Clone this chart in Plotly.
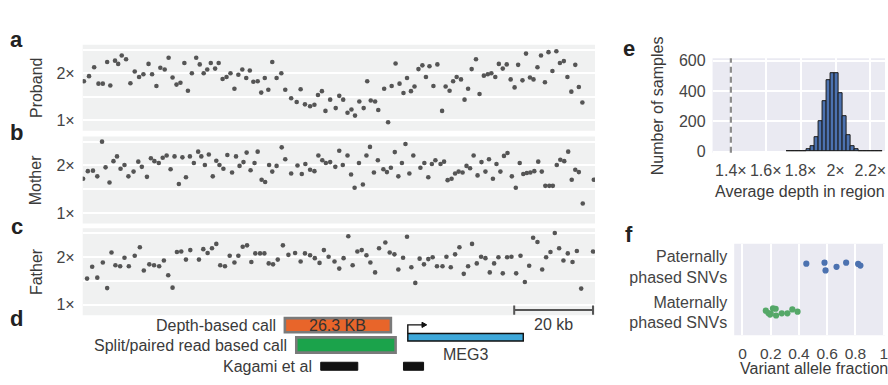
import plotly.graph_objects as go

# ---------------- data ----------------
proband_kb = [0.3,1.6,2.9,4.0,5.1,6.2,7.0,8.2,9.0,9.9,11.0,12.1,13.2,14.3,15.4,16.7,17.6,18.7,19.7,20.8,
              21.8,22.8,23.8,24.8,25.8,26.7,27.7,28.8,29.7,30.7,31.6,32.5,33.6,34.5,35.5,36.5,37.5,38.5,39.5,40.5,
              41.5,42.4,43.3,44.4,45.3,46.2,47.1,48.1,49.2,50.4,51.4,52.9,54.3,
              55.3,56.4,57.7,58.8,59.7,60.7,61.6,62.8,64.2,65.1,66.1,67.2,68.2,69.1,70.2,71.3,72.2,73.1,74.2,75.0,
              76.5,77.5,78.4,79.4,80.4,81.4,82.3,83.3,84.2,85.2,86.2,87.1,88.0,89.0,90.0,91.2,92.1,93.1,94.0,94.9,
              96.0,96.9,97.8,98.7,99.8,100.7,101.8,102.8,103.7,104.7,105.6,106.6,107.6,108.6,109.6,110.5,111.6,112.5,113.5,114.4,
              115.4,116.3,117.3,118.2,119.2,120.2,121.1,122.1,123.0,124.0,125.0,125.9,126.8]
proband_depth = [1.83,1.94,2.13,1.78,1.78,2.24,1.74,2.27,2.20,2.38,2.30,1.79,2.04,1.92,1.98,2.20,1.98,1.73,2.12,2.08,
                 2.33,1.91,1.76,1.80,2.22,1.63,2.00,2.33,2.19,2.00,2.08,2.22,2.10,2.22,1.88,1.92,2.00,1.67,1.97,2.08,
                 1.90,2.06,1.82,1.83,1.59,1.90,1.65,2.24,1.90,2.00,1.65,1.47,1.39,
                 1.66,1.34,1.30,1.33,1.54,1.62,1.20,1.44,1.26,1.52,1.44,1.16,1.23,1.10,1.40,1.26,1.83,1.42,1.40,1.22,
                 1.67,0.96,1.73,2.21,1.78,1.58,1.90,1.62,1.72,2.09,2.17,1.92,2.15,1.73,2.19,1.20,1.72,1.63,1.83,1.92,
                 1.87,1.44,1.67,2.09,2.30,1.56,1.95,1.98,2.00,1.92,2.20,2.10,2.19,1.87,1.70,2.18,1.85,2.42,1.91,1.87,
                 2.13,2.38,1.81,2.45,2.05,2.47,2.22,2.26,1.92,1.61,2.18,1.71,1.38]

mother_kb = [0.1,1.3,2.6,3.7,4.9,5.8,6.8,7.8,8.7,9.6,10.6,11.6,12.9,14.1,15.0,16.3,17.3,18.2,19.3,20.3,
             21.3,22.3,23.3,24.4,25.3,26.2,27.2,28.2,29.3,30.1,31.0,32.0,33.0,33.9,34.7,35.7,36.7,37.9,38.9,39.8,
             40.8,41.6,42.6,43.6,44.4,45.4,46.3,47.3,48.1,49.2,50.5,51.4,52.9,54.5,
             55.6,56.5,57.7,58.8,59.8,60.8,61.7,62.8,64.1,65.1,66.0,67.2,68.1,69.0,70.1,71.1,72.0,72.9,73.9,74.9,
             76.3,77.2,78.2,79.2,80.1,81.0,81.9,82.9,83.9,85.7,86.7,87.7,88.6,89.5,90.8,91.7,92.6,93.6,94.5,95.4,
             96.4,97.4,98.3,99.2,100.2,101.2,102.2,103.1,104.1,105.0,106.0,106.9,107.8,108.9,109.9,110.9,111.8,112.7,113.6,114.6,
             115.6,116.5,117.4,118.4,119.3,120.3,121.2,122.2,123.2,124.1,125.0,125.9,126.9,129.7]
mother_depth = [1.72,1.88,1.89,1.77,2.50,1.96,1.64,2.09,2.19,1.93,2.01,1.77,1.87,2.08,1.97,1.76,2.15,2.09,2.05,2.16,
                2.21,1.92,2.19,1.61,2.17,1.75,2.19,2.05,2.29,2.19,2.01,2.23,1.77,2.10,2.01,1.93,2.22,1.85,2.19,1.99,
                2.07,2.27,1.90,2.05,2.29,1.70,1.65,2.01,1.87,1.99,2.38,2.13,1.83,2.00,
                1.82,2.03,1.91,1.88,2.21,2.11,2.05,2.07,1.97,2.31,2.01,2.21,1.81,1.53,2.05,1.60,2.21,2.39,1.85,2.11,
                1.92,1.86,1.95,2.28,1.77,2.05,2.45,1.83,2.21,1.95,2.05,1.75,2.03,2.11,2.03,2.08,1.69,1.72,1.83,1.87,
                1.85,1.99,1.94,2.21,1.79,2.07,1.87,2.13,1.72,2.03,1.87,2.20,2.26,1.77,1.53,2.05,1.82,1.84,1.85,1.88,
                2.08,1.87,1.57,1.57,1.57,2.01,2.12,2.09,2.29,1.70,1.91,1.86,1.20,1.70]

father_kb = [1.1,2.4,3.7,5.1,6.2,7.3,8.3,9.5,10.6,11.7,13.2,14.5,15.5,16.9,18.1,19.4,20.6,21.7,22.8,23.9,
             25.0,26.2,27.3,29.5,30.6,31.7,32.8,33.9,34.9,36.1,37.3,38.5,39.5,40.6,41.7,42.8,43.8,45.0,46.1,47.2,
             48.3,49.5,50.8,52.2,53.9,
             55.3,56.4,57.7,58.9,60.1,61.2,62.4,63.9,65.1,66.2,67.4,68.5,69.7,70.8,72.0,73.0,74.2,75.2,76.8,77.9,
             79.1,80.1,81.3,82.3,83.4,84.4,85.5,86.6,87.7,88.8,89.9,91.3,92.3,93.4,94.5,95.6,96.7,97.8,98.8,100.0,
             101.1,102.2,103.3,104.4,105.5,106.6,107.7,108.8,110.0,111.1,112.2,113.3,114.3,115.4,116.6,117.6,118.7,119.8,120.9,122.0,
             123.1,124.3,125.4,126.5,129.5]
father_depth = [1.55,1.80,1.57,1.89,1.35,2.10,1.83,1.81,1.99,1.81,2.03,2.21,1.72,1.85,1.83,1.81,1.93,1.62,1.36,2.11,
                2.12,1.95,2.15,1.95,2.17,2.09,2.19,2.28,1.83,1.81,2.03,1.89,2.03,2.22,2.25,1.90,2.08,2.08,2.08,1.87,
                1.85,1.95,2.25,2.05,2.09,
                1.91,2.08,2.04,1.98,1.88,2.15,2.01,1.91,1.76,1.98,2.44,1.83,2.12,2.15,2.04,1.89,1.68,2.19,2.31,2.10,
                2.06,1.74,1.99,2.43,1.79,1.46,1.97,1.85,1.96,2.00,1.81,1.81,2.01,1.79,2.06,2.21,1.65,1.81,2.28,1.87,
                2.01,1.98,1.68,1.87,2.00,1.66,2.00,2.01,1.66,2.03,1.48,1.82,2.41,2.32,1.74,2.00,2.11,2.51,2.19,1.93,
                2.08,1.90,2.13,1.34,2.12]

depth_ticks = [1, 1.5, 2, 2.5]
depth_ticktext = ["1×", "", "2×", ""]

# panel d : genomic features (kb)
depth_call = [51.3, 78.2]
depth_call_label = "26.3 KB"
split_call = [54.2, 79.4]
meg3 = [82.5, 111.8]
kagami = [[60.4, 69.8], [81.4, 86.5]]
scalebar = [109.5, 129.5]
scalebar_label = "20 kb"

# panel e : histogram of average depth in region across samples
hist_centers = [1.731,1.754,1.777,1.800,1.823,1.846,1.869,1.892,1.915,1.938,1.961,1.984,2.007,2.030,2.053,2.076,
                2.099,2.122,2.145,2.168,2.191,2.214,2.237,2.260]
hist_counts = [1,1,2,3,4,17,38,98,202,335,469,516,520,382,236,106,38,15,6,2,1,1,1,1]
hist_bin_width = 0.0232
proband_avg_depth = 1.4
hist_ticks = [1.4, 1.6, 1.8, 2.0, 2.2]
hist_ticktext = ["1.4×", "1.6×", "1.8×", "2×", "2.2×"]
count_ticks = [0, 200, 400, 600]

# panel f : variant allele fraction of phased SNVs
snv_categories = ["Paternally<br>phased SNVs", "Maternally<br>phased SNVs"]
paternal_vaf = [0.452, 0.581, 0.588, 0.666, 0.734, 0.819, 0.835]
paternal_jitter = [-0.063, -0.085, 0.085, 0.006, -0.085, -0.057, -0.021]
maternal_vaf = [0.165, 0.183, 0.200, 0.216, 0.235, 0.238, 0.278, 0.318, 0.353, 0.390, 0.195]
maternal_jitter = [-0.036, 0.015, 0.028, -0.085, -0.078, 0.070, 0.021, 0.021, -0.063, -0.015, 0.05]
vaf_ticks = [0, 0.2, 0.4, 0.6, 0.8, 1]
vaf_ticktext = ["0", "0.2", "0.4", "0.6", "0.8", "1"]

# ---------------- layout helpers ----------------
W, H = 888, 385
FONT = "Liberation Sans, Arial, sans-serif"
TXT = "#3a3a3a"
def fx(p): return p / W
def fy(p): return 1 - p / H

def note(text, x, y, xref="paper", yref="paper", size=16, color=TXT, xanchor="center", **kw):
    return dict(text=text, x=x, y=y, xref=xref, yref=yref, xanchor=xanchor, yanchor="middle",
                showarrow=False, font=dict(size=size, color=color, family=FONT), **kw)

fig = go.Figure()

panels = [("Proband", proband_kb, proband_depth, 40, 129),
          ("Mother", mother_kb, mother_depth, 135, 225),
          ("Father", father_kb, father_depth, 230, 320)]
shapes = []
annotations = []
for i, (name, xs, ys, top, bot) in enumerate(panels, start=1):
    sfx = "" if i == 1 else str(i)
    fig.add_trace(go.Scatter(x=xs, y=ys, mode="markers", xaxis="x" + sfx, yaxis="y" + sfx,
                             marker=dict(size=4.6, color="#555555"), showlegend=False, hoverinfo="skip"))
    fig.layout["xaxis" + sfx] = dict(domain=[fx(83), fx(597)], range=[0, 130], anchor="y" + sfx,
                                     showgrid=False, showticklabels=False, zeroline=False, showline=False)
    fig.layout["yaxis" + sfx] = dict(domain=[fy(bot), fy(top)], range=[0.78, 2.61], anchor="x" + sfx,
                                     tickvals=depth_ticks, ticktext=depth_ticktext, showgrid=True,
                                     gridcolor="white", gridwidth=1.6, zeroline=False, showline=False,
                                     ticks="", ticklabelstandoff=7,
                                     tickfont=dict(size=16, color="#444", family=FONT))
    shapes.append(dict(type="rect", xref="paper", yref="paper", x0=fx(83), x1=fx(597), y0=fy(bot), y1=fy(top),
                       fillcolor="#F0F1F1", line=dict(width=0), layer="below"))
    annotations.append(note(name, fx(36.5), fy((top + bot) / 2), textangle=-90))

# panel e
fig.add_trace(go.Bar(x=hist_centers, y=hist_counts, width=hist_bin_width, xaxis="x4", yaxis="y4",
                     marker=dict(color="#4C72B0", line=dict(color="#1a1a1a", width=1)),
                     showlegend=False, hoverinfo="skip"))
fig.layout["xaxis4"] = dict(domain=[fx(715), 1], range=[1.2952, 2.2838], anchor="y4",
                            tickvals=hist_ticks, ticktext=hist_ticktext, showgrid=True, gridcolor="white",
                            gridwidth=1.6, zeroline=False, showline=False, ticks="", ticklabelstandoff=6,
                            ticklabeloverflow="allow",
                            tickfont=dict(size=16, color="#444", family=FONT))
fig.layout["yaxis4"] = dict(domain=[fy(152), fy(54)], range=[-8.3, 616], anchor="x4",
                            tickvals=count_ticks, showgrid=True, gridcolor="white", gridwidth=1.6,
                            zeroline=False, showline=False, ticks="", ticklabelstandoff=6,
                            tickfont=dict(size=16, color="#444", family=FONT))
shapes.append(dict(type="rect", xref="paper", yref="paper", x0=fx(715), x1=1, y0=fy(152), y1=fy(54),
                   fillcolor="#EAEAF2", line=dict(width=0), layer="below"))
shapes.append(dict(type="line", xref="x4", yref="y4 domain", x0=proband_avg_depth, x1=proband_avg_depth,
                   y0=0, y1=1, line=dict(color="#8c8c8c", width=2.2, dash="6px,4px")))
annotations.append(note("Number of samples", fx(660), fy(103), textangle=-90))
annotations.append(note("Average depth in region", fx(803), fy(191.7)))

# panel f
fig.add_trace(go.Scatter(x=paternal_vaf, y=[0 + j for j in paternal_jitter], mode="markers",
                         xaxis="x5", yaxis="y5", marker=dict(size=6.2, color="#4C72B0"),
                         showlegend=False, hoverinfo="skip"))
fig.add_trace(go.Scatter(x=maternal_vaf, y=[1 + j for j in maternal_jitter], mode="markers",
                         xaxis="x5", yaxis="y5", marker=dict(size=6.2, color="#55A868"),
                         showlegend=False, hoverinfo="skip"))
fig.layout["xaxis5"] = dict(domain=[fx(736.7), 1], range=[-0.0586, 1.0092], anchor="y5",
                            tickvals=vaf_ticks, ticktext=vaf_ticktext, showgrid=True, gridcolor="white",
                            gridwidth=1.6, zeroline=False, showline=False, ticks="", ticklabelstandoff=7,
                            ticklabeloverflow="allow",
                            tickfont=dict(size=15.5, color="#444", family=FONT))
fig.layout["yaxis5"] = dict(domain=[fy(340.7), fy(246)], range=[1.5, -0.5], anchor="x5",
                            tickvals=[0, 1], ticktext=snv_categories, showgrid=False,
                            zeroline=False, showline=False, ticks="", ticklabelstandoff=6,
                            tickfont=dict(size=16, color="#444", family=FONT))
shapes.append(dict(type="rect", xref="paper", yref="paper", x0=fx(736.7), x1=1, y0=fy(340.7), y1=fy(246),
                   fillcolor="#EAEAF2", line=dict(width=0), layer="below"))
annotations.append(note("Variant allele fraction", fx(816.4), fy(375)))

# panel d (genomic features on the shared kb axis)
shapes.append(dict(type="rect", xref="x3", yref="paper", x0=depth_call[0], x1=depth_call[1],
                   y0=fy(337.7), y1=fy(323), fillcolor="#E8652A", line=dict(color="#7a7a7a", width=2.6)))
shapes.append(dict(type="rect", xref="x3", yref="paper", x0=split_call[0], x1=split_call[1],
                   y0=fy(358.7), y1=fy(343), fillcolor="#1BA34B", line=dict(color="#7a7a7a", width=2.6)))
shapes.append(dict(type="rect", xref="x3", yref="paper", x0=meg3[0], x1=meg3[1],
                   y0=fy(346.7), y1=fy(339), fillcolor="#3EA8DA", line=dict(color="#111111", width=1.4)))
arrow_end = meg3[0] + 3.6
shapes.append(dict(type="path", xref="x3", yref="paper",
                   path=f"M{meg3[0]},{fy(339)} L{meg3[0]},{fy(330)} L{arrow_end},{fy(330)}",
                   line=dict(color="#111111", width=1.4)))
shapes.append(dict(type="path", xref="x3", yref="paper",
                   path=f"M{arrow_end},{fy(327.3)} L{arrow_end + 1.2},{fy(330)} L{arrow_end},{fy(332.7)} Z",
                   fillcolor="#111111", line=dict(color="#111111", width=1)))
for k0, k1 in kagami:
    shapes.append(dict(type="rect", xref="x3", yref="paper", x0=k0, x1=k1, y0=fy(377), y1=fy(368.7),
                       fillcolor="#111111", line=dict(color="#111111", width=1)))
# scale bar
shapes.append(dict(type="line", xref="x3", yref="paper", x0=scalebar[0], x1=scalebar[1],
                   y0=fy(314.7), y1=fy(314.7), line=dict(color="#555555", width=2)))
for sb in scalebar:
    shapes.append(dict(type="line", xref="x3", yref="paper", x0=sb, x1=sb, y0=fy(319.5), y1=fy(310),
                       line=dict(color="#555555", width=2)))
annotations.append(note(scalebar_label, (scalebar[0] + scalebar[1]) / 2, fy(329.5), xref="x3"))
annotations.append(note(depth_call_label, (depth_call[0] + depth_call[1]) / 2, fy(330.6), xref="x3",
                        color="#333333"))
annotations.append(note("MEG3", (meg3[0] + meg3[1]) / 2, fy(360.7), xref="x3"))
for label, start, yy in [("Depth-based call", depth_call[0], 330.4),
                         ("Split/paired read based call", split_call[0], 350.9),
                         ("Kagami et al", kagami[0][0], 372.8)]:
    annotations.append(note(label, start, fy(yy), xref="x3", xanchor="right", xshift=-7))

# panel letters
for letter, x, y in [("a", 17, 35), ("b", 17, 131), ("c", 17, 228), ("d", 17, 323), ("e", 631, 44), ("f", 631, 237)]:
    annotations.append(note(f"<b>{letter}</b>", fx(x), fy(y), size=22, color="#222222"))

fig.update_layout(width=W, height=H, margin=dict(l=0, r=0, t=0, b=0, pad=0), autosize=False,
                  paper_bgcolor="white", plot_bgcolor="rgba(0,0,0,0)", bargap=0,
                  shapes=shapes, annotations=annotations, font=dict(family=FONT, color=TXT))

fig.write_html("out.html", config={"displayModeBar": False},
               post_script="document.body.style.margin='0';document.body.style.overflow='hidden';")
